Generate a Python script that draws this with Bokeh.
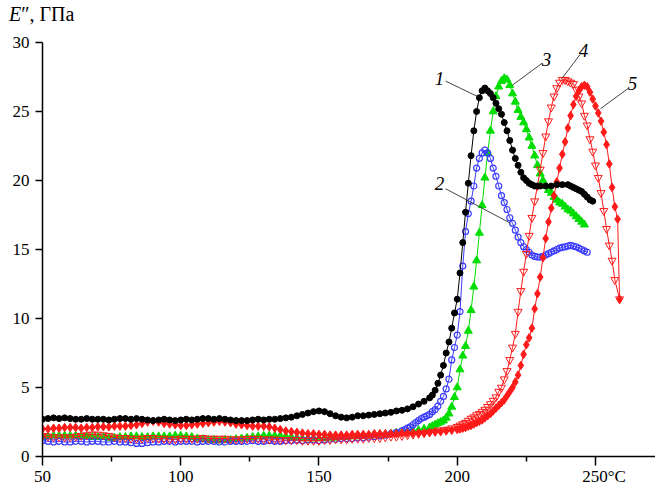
from bokeh.plotting import figure
from bokeh.models import Range1d, FixedTicker, Div
from bokeh.layouts import column
from bokeh.core.properties import value
from bokeh.embed import file_html
from bokeh.resources import INLINE

# ---------------- data ----------------
# Curve 1 (black, filled circles)
t1 = [50, 52, 54, 56, 58, 60, 62, 64, 66, 68, 70, 72, 74, 76, 78, 80, 82, 84, 86, 88,
      90, 92, 94, 96, 98, 100, 102, 104, 106, 108, 110, 112, 114, 116, 118, 120, 122, 124, 126, 128,
      130, 132, 134, 136, 138, 140, 142, 144, 146, 148, 150, 152, 154, 156, 158, 160, 162, 164, 166, 168,
      170, 172, 174, 176, 178, 180, 182, 184, 186, 188, 190, 191, 192, 193, 194, 195, 196, 197, 198, 199,
      200, 201, 202, 203, 204, 205, 206, 207, 208, 209, 210, 211, 212, 213, 214, 215, 216, 217, 218, 219,
      220, 221, 222, 223, 224, 225, 226, 227, 228, 229, 230, 232, 234, 236, 238, 240, 241, 242, 243, 244,
      245, 246, 247, 248, 249]
e1 = [2.7, 2.75, 2.8, 2.75, 2.8, 2.75, 2.7, 2.7, 2.75, 2.7, 2.7, 2.7, 2.65, 2.7, 2.75, 2.75, 2.7, 2.75, 2.7, 2.65,
      2.6, 2.65, 2.7, 2.65, 2.6, 2.65, 2.7, 2.65, 2.7, 2.75, 2.75, 2.7, 2.75, 2.7, 2.65, 2.6, 2.6, 2.6, 2.65, 2.7,
      2.65, 2.7, 2.7, 2.75, 2.8, 2.85, 2.95, 3.05, 3.15, 3.25, 3.3, 3.25, 3.1, 2.95, 2.85, 2.8, 2.85, 2.95, 2.95, 3.0,
      3.05, 3.1, 3.15, 3.2, 3.3, 3.35, 3.45, 3.6, 3.8, 4.0, 4.25, 4.45, 4.8, 5.3, 5.9, 6.6, 7.5, 8.3, 9.3, 10.4,
      11.4, 13.3, 15.5, 17.7, 19.8, 21.8, 23.6, 25.0, 26.0, 26.5, 26.7, 26.5, 26.3, 26.0, 25.6, 25.2, 24.8, 24.2, 23.6, 22.9,
      22.2, 21.6, 21.1, 20.6, 20.2, 20.0, 19.8, 19.7, 19.6, 19.6, 19.6, 19.6, 19.6, 19.7, 19.7, 19.7, 19.6, 19.5, 19.4, 19.3,
      19.2, 19.0, 18.8, 18.6, 18.5]

# Curve 2 (blue, open circles)
t2 = [50, 52, 54, 56, 58, 60, 62, 64, 66, 68, 70, 72, 74, 76, 78, 80, 82, 84, 86, 88,
      90, 92, 94, 96, 98, 100, 102, 104, 106, 108, 110, 112, 114, 116, 118, 120, 122, 124, 126, 128,
      130, 132, 134, 136, 138, 140, 142, 144, 146, 148, 150, 152, 154, 156, 158, 160, 162, 164, 166, 168,
      170, 172, 174, 176, 178, 180, 181, 182, 183, 184, 185, 186, 187, 188, 189, 190, 191, 192, 193, 194,
      195, 196, 197, 198, 199, 200, 201, 202, 203, 204, 205, 206, 207, 208, 209, 210, 211, 212, 213, 214,
      215, 216, 217, 218, 219, 220, 221, 222, 223, 224, 225, 226, 227, 228, 229, 230, 231, 232, 233, 234,
      235, 236, 237, 238, 239, 240, 241, 242, 243, 244, 245, 246, 247]
e2 = [1.15, 1.1, 1.05, 1.1, 1.05, 1.05, 1.1, 1.1, 1.05, 1.1, 1.1, 1.05, 1.05, 1.1, 1.05, 1.05, 1.0, 0.95, 0.95, 1.0,
      1.05, 1.05, 1.1, 1.1, 1.05, 1.1, 1.1, 1.1, 1.05, 1.1, 1.1, 1.1, 1.05, 1.05, 1.1, 1.1, 1.1, 1.1, 1.15, 1.1,
      1.1, 1.15, 1.1, 1.1, 1.15, 1.15, 1.2, 1.15, 1.2, 1.2, 1.15, 1.2, 1.25, 1.25, 1.3, 1.3, 1.3, 1.35, 1.35, 1.4,
      1.45, 1.5, 1.55, 1.65, 1.75, 1.85, 1.95, 2.05, 2.15, 2.3, 2.45, 2.6, 2.75, 2.85, 2.95, 3.05, 3.25, 3.4, 3.65, 4.0,
      4.35, 4.9, 5.6, 7.0, 7.9, 8.8, 10.5, 13.8, 16.3, 17.6, 18.5, 19.6, 20.9, 21.6, 22.0, 22.2, 22.0, 21.6, 20.9, 20.3,
      19.6, 18.9, 18.4, 17.9, 17.3, 16.9, 16.4, 15.9, 15.5, 15.2, 15.0, 14.8, 14.6, 14.5, 14.45, 14.45, 14.5, 14.6, 14.7, 14.8,
      14.9, 15.0, 15.1, 15.15, 15.2, 15.25, 15.3, 15.25, 15.2, 15.1, 15.0, 14.9, 14.8]

# Curve 3 (green, filled triangles)
t3 = [50, 52, 54, 56, 58, 60, 62, 64, 66, 68, 70, 72, 74, 76, 78, 80, 82, 84, 86, 88,
      90, 92, 94, 96, 98, 100, 102, 104, 106, 108, 110, 112, 114, 116, 118, 120, 122, 124, 126, 128,
      130, 132, 134, 136, 138, 140, 142, 144, 146, 148, 150, 152, 154, 156, 158, 160, 162, 164, 166, 168,
      170, 172, 174, 176, 178, 180, 182, 184, 186, 188, 190, 191, 192, 193, 194, 195, 196, 197, 198, 199,
      200, 201, 202, 203, 204, 205, 206, 207, 208, 209, 210, 211, 212, 213, 214, 215, 216, 217, 218, 219,
      220, 221, 222, 223, 224, 225, 226, 227, 228, 229, 230, 231, 232, 233, 234, 235, 236, 237, 238, 239,
      240, 241, 242, 243, 244, 245, 246]
e3 = [1.4, 1.45, 1.5, 1.5, 1.5, 1.5, 1.5, 1.45, 1.45, 1.4, 1.4, 1.4, 1.35, 1.35, 1.4, 1.4, 1.45, 1.45, 1.4, 1.4,
      1.45, 1.45, 1.45, 1.45, 1.5, 1.5, 1.45, 1.4, 1.3, 1.25, 1.2, 1.2, 1.15, 1.2, 1.2, 1.25, 1.3, 1.35, 1.4, 1.45,
      1.5, 1.5, 1.5, 1.5, 1.45, 1.4, 1.35, 1.3, 1.3, 1.3, 1.3, 1.3, 1.35, 1.35, 1.4, 1.4, 1.45, 1.45, 1.5, 1.5,
      1.55, 1.6, 1.6, 1.65, 1.7, 1.75, 1.8, 1.85, 1.9, 2.0, 2.1, 2.2, 2.3, 2.4, 2.5, 2.6, 2.8, 3.1, 3.6, 4.3,
      5.0, 6.3, 7.3, 8.0, 9.1, 10.6, 12.3, 14.2, 16.2, 18.2, 20.2, 22.0, 23.6, 25.0, 26.1, 26.8, 27.2, 27.4, 27.3, 26.9,
      26.3, 25.7, 25.1, 24.6, 24.2, 23.7, 23.1, 22.5, 21.8, 21.1, 20.5, 20.0, 19.6, 19.3, 19.1, 18.8, 18.6, 18.4, 18.3, 18.1,
      17.9, 17.8, 17.6, 17.4, 17.2, 17.0, 16.8]

# Curve 4 (red, open down-triangles)
t4 = [50, 52, 54, 56, 58, 60, 62, 64, 66, 68, 70, 72, 74, 76, 78, 80, 82, 84, 86, 88,
      90, 92, 94, 96, 98, 100, 102, 104, 106, 108, 110, 112, 114, 116, 118, 120, 122, 124, 126, 128,
      130, 132, 134, 136, 138, 140, 142, 144, 146, 148, 150, 152, 154, 156, 158, 160, 162, 164, 166, 168,
      170, 172, 174, 176, 178, 180, 182, 184, 186, 188, 190, 192, 194, 196, 198, 200, 201, 202, 203, 204,
      205, 206, 207, 208, 209, 210, 211, 212, 213, 214, 215, 216, 217, 218, 219, 220, 221, 222, 223, 224,
      225, 226, 227, 228, 229, 230, 231, 232, 233, 234, 235, 236, 237, 238, 239, 240, 241, 242, 243, 244,
      245, 246, 247, 248, 249, 250, 251, 252, 253, 254, 255, 256, 257, 258.7]
e4 = [1.5, 1.45, 1.4, 1.4, 1.4, 1.4, 1.45, 1.5, 1.55, 1.6, 1.6, 1.55, 1.5, 1.4, 1.35, 1.35, 1.3, 1.3, 1.3, 1.35,
      1.35, 1.3, 1.3, 1.25, 1.25, 1.3, 1.3, 1.3, 1.3, 1.35, 1.3, 1.3, 1.3, 1.3, 1.25, 1.25, 1.25, 1.3, 1.3, 1.3,
      1.25, 1.25, 1.25, 1.2, 1.2, 1.2, 1.2, 1.15, 1.15, 1.15, 1.15, 1.2, 1.2, 1.25, 1.25, 1.25, 1.3, 1.3, 1.3, 1.35,
      1.35, 1.35, 1.4, 1.45, 1.45, 1.5, 1.55, 1.6, 1.65, 1.7, 1.75, 1.8, 1.9, 1.95, 2.05, 2.15, 2.25, 2.35, 2.45, 2.6,
      2.75, 2.85, 3.0, 3.1, 3.25, 3.4, 3.6, 3.8, 4.05, 4.3, 4.7, 5.0, 5.6, 6.2, 7.0, 7.9, 8.9, 10.5, 12.0, 13.4,
      14.7, 16.0, 17.3, 18.5, 19.6, 20.8, 22.0, 23.2, 24.3, 25.3, 26.1, 26.7, 27.1, 27.3, 27.3, 27.2, 27.1, 27.0, 26.6, 26.1,
      25.6, 24.7, 24.0, 23.0, 22.1, 21.1, 20.2, 19.1, 17.8, 16.5, 15.3, 14.2, 12.8, 11.4]

# Curve 5 (red, filled diamonds)
t5 = [50, 52, 54, 56, 58, 60, 62, 64, 66, 68, 70, 72, 74, 76, 78, 80, 82, 84, 86, 88,
      90, 92, 94, 96, 98, 100, 102, 104, 106, 108, 110, 112, 114, 116, 118, 120, 122, 124, 126, 128,
      130, 132, 134, 136, 138, 140, 142, 144, 146, 148, 150, 152, 154, 156, 158, 160, 162, 164, 166, 168,
      170, 172, 174, 176, 178, 180, 182, 184, 186, 188, 190, 192, 194, 196, 198, 200, 201, 202, 203, 204,
      205, 206, 207, 208, 209, 210, 211, 212, 213, 214, 215, 216, 217, 218, 219, 220, 221, 222, 223, 224,
      225, 226, 227, 228, 229, 230, 231, 232, 233, 234, 235, 236, 237, 238, 239, 240, 241, 242, 243, 244,
      245, 246, 247, 248, 249, 250, 251, 252, 253, 254, 255, 256, 257, 258, 258.7]
e5 = [2.0, 2.0, 2.05, 2.05, 2.1, 2.1, 2.1, 2.05, 2.1, 2.1, 2.15, 2.15, 2.15, 2.2, 2.2, 2.2, 2.25, 2.3, 2.4, 2.5,
      2.55, 2.5, 2.4, 2.35, 2.3, 2.25, 2.25, 2.3, 2.35, 2.4, 2.45, 2.5, 2.55, 2.5, 2.45, 2.35, 2.3, 2.25, 2.2, 2.2,
      2.2, 2.15, 2.05, 1.95, 1.85, 1.8, 1.75, 1.7, 1.65, 1.65, 1.6, 1.6, 1.55, 1.55, 1.55, 1.55, 1.6, 1.6, 1.6, 1.6,
      1.65, 1.65, 1.65, 1.65, 1.65, 1.7, 1.7, 1.7, 1.7, 1.7, 1.75, 1.8, 1.8, 1.85, 1.9, 1.95, 2.0, 2.05, 2.1, 2.2,
      2.25, 2.35, 2.45, 2.55, 2.65, 2.8, 2.95, 3.1, 3.3, 3.5, 3.7, 3.9, 4.1, 4.4, 4.7, 5.0, 5.4, 5.9, 6.6, 7.4,
      8.1, 8.6, 9.3, 10.7, 11.8, 13.0, 14.4, 15.8, 17.0, 18.0, 18.9, 19.9, 20.9, 21.9, 22.8, 23.8, 24.7, 25.5, 26.1, 26.5,
      26.8, 26.9, 26.8, 26.4, 25.9, 25.4, 24.9, 24.3, 23.5, 22.6, 21.2, 19.5, 18.1, 17.2, 11.4]

# axis ticks
x_ticks = [50, 100, 150, 200, 250]
x_minor = [75, 125, 175, 225]
y_ticks = [0, 5, 10, 15, 20, 25, 30]
x_unit_label = "\u2007\u2007250°C"

# curve numbers and their leader lines (data coordinates)
lab_text = ["1", "2", "3", "4", "5"]
lab_x = [193.6, 193.6, 232.3, 245.7, 263.4]
lab_y = [27.4, 19.75, 28.8, 29.4, 27.0]
lead_x0 = [195.8, 195.8, 230.7, 244.3, 262.0]
lead_y0 = [27.2, 19.4, 28.5, 29.1, 26.7]
lead_x1 = [207.2, 219.3, 219.9, 237.9, 251.8]
lead_y1 = [26.1, 16.9, 26.9, 27.4, 25.2]

SERIF = "Liberation Serif"

title = Div(text='<span style="font-family:\'Liberation Serif\';font-size:20px;color:black;">'
                 '<i>E</i>″, ГПа</span>',
            width=655, height=30, margin=(0, 0, 0, 0),
            styles={"padding-left": "9px", "padding-top": "4px", "line-height": "20px"})

p = figure(width=655, height=458, output_backend="svg", toolbar_location=None,
           x_range=Range1d(50, 271.7), y_range=Range1d(0, 30),
           min_border_left=42, min_border_right=0, min_border_top=12, min_border_bottom=31)
p.outline_line_color = None
p.grid.visible = False
p.background_fill_color = "white"
p.border_fill_color = "white"

# x axis
xa = p.xaxis[0]
xa.ticker = FixedTicker(ticks=x_ticks, minor_ticks=x_minor)
xa.major_label_overrides = {250: x_unit_label}
xa.axis_line_width = 1.5
xa.major_tick_line_width = 1.5
xa.minor_tick_line_width = 1.5
xa.major_tick_in = 0
xa.major_tick_out = 9
xa.minor_tick_in = 0
xa.minor_tick_out = 5
xa.major_label_standoff = 1
xa.major_label_text_font = SERIF
xa.major_label_text_font_size = "17px"
xa.major_label_text_color = "black"

# y axis
ya = p.yaxis[0]
ya.ticker = FixedTicker(ticks=y_ticks)
ya.axis_line_width = 1.5
ya.major_tick_line_width = 1.5
ya.major_tick_in = 0
ya.major_tick_out = 7
ya.minor_tick_out = 0
ya.minor_tick_in = 0
ya.major_label_standoff = 6
ya.major_label_text_font = SERIF
ya.major_label_text_font_size = "17px"
ya.major_label_text_color = "black"

# series
green = "#00dd00"
blue = "#3a3aff"
red = "#ff1a1a"

p.line(t3, e3, line_color=green, line_width=1)
p.scatter(t3, e3, marker="triangle", size=8, fill_color=green, line_color=green)

p.line(t2, e2, line_color=blue, line_width=1)
p.scatter(t2, e2, marker="circle", size=6, fill_color=None, line_color=blue, line_width=1.2)

p.line(t4, e4, line_color=red, line_width=1)
p.scatter(t4, e4, marker="inverted_triangle", size=8, fill_color=None, line_color=red, line_width=1)

p.line(t5, e5, line_color=red, line_width=1)
p.scatter(t5, e5, marker="diamond", size=8.5, fill_color=red, line_color=red)

p.line(t1, e1, line_color="black", line_width=1)
p.scatter(t1, e1, marker="circle", size=6, fill_color="black", line_color="black")

# leader lines + numbers
p.segment(lead_x0, lead_y0, lead_x1, lead_y1, line_color="#444444", line_width=1)
p.text(lab_x, lab_y, text=lab_text, text_font=value(SERIF), text_font_style="italic",
       text_font_size="19px", text_align="center", text_baseline="middle", text_color="black")

layout = column(title, p, spacing=0)
open("out.html", "w").write(file_html(layout, INLINE))
